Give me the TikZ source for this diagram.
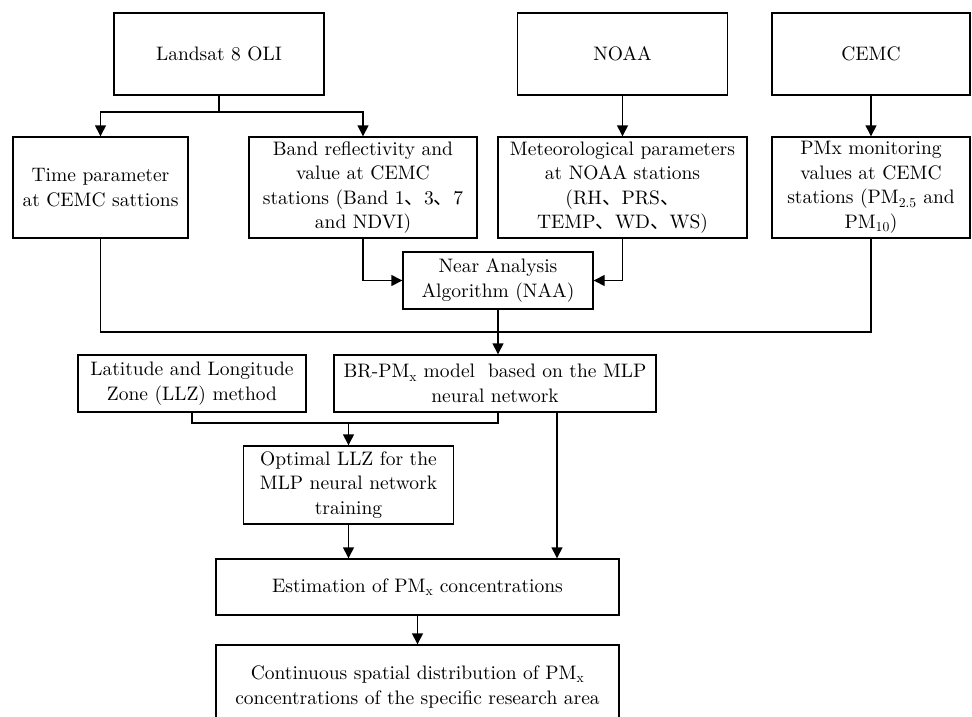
\documentclass[tikz,border=0pt]{standalone}
\usepackage{fontspec}
\setmainfont{lmroman10-regular.otf}
\newfontfamily\cjk{Noto Sans CJK SC}
\usetikzlibrary{arrows.meta,calc}
\newcommand{\dun}{{\cjk 、}}
\begin{document}
\begin{tikzpicture}[x=1pt,y=-1pt,
  box/.style={draw, line width=1.4pt, align=center, inner sep=0pt,
    font=\fontsize{19.5}{24.5}\selectfont},
  conn/.style={line width=1.4pt},
  arr/.style={conn, -{Triangle[length=11pt,width=11pt]}}]
\useasboundingbox (0,0) rectangle (972,717);
\clip (0,0) rectangle (972,717);
% top row
\node[box, minimum width=210pt, minimum height=82pt] (ls) at (219,54) {Landsat 8 OLI};
\node[box, minimum width=210pt, minimum height=82pt] (noaa) at (622.5,54) {NOAA};
\node[box, minimum width=198pt, minimum height=82pt] (cemc) at (871,54) {CEMC};
% second row
\node[box, minimum width=175pt, minimum height=101pt] (time) at (100.5,187.5) {Time parameter\\at CEMC sattions};
\node[box, minimum width=228pt, minimum height=101pt] (band) at (363,187.5) {Band reflectivity and\\value at CEMC\\stations (Band 1\dun3\dun7\\and NDVI)};
\node[box, minimum width=249pt, minimum height=101pt] (met) at (622.5,187.5) {Meteorological parameters\\at NOAA stations\\(RH\dun PRS\dun\\TEMP\dun WD\dun WS)};
\node[box, minimum width=198pt, minimum height=101pt] (pmx) at (871,187.5) {PMx monitoring\\values at CEMC\\stations (PM\textsubscript{2.5} and\\PM\textsubscript{10})};
% NAA
\node[box, minimum width=190pt, minimum height=57pt] (naa) at (498,280.5) {Near Analysis\\Algorithm (NAA)};
% LLZ and BR
\node[box, minimum width=228pt, minimum height=57pt] (llz) at (192,383.5) {Latitude and Longitude\\Zone (LLZ) method};
\node[box, minimum width=322pt, minimum height=57pt] (br) at (495,383.5) {BR-PM\textsubscript{x} model\ \ based on the MLP\\neural network};
% optimal
\node[box, minimum width=210pt, minimum height=78pt] (opt) at (348.5,485) {Optimal LLZ for the\\MLP neural network\\training};
% estimation
\node[box, minimum width=403pt, minimum height=56pt] (est) at (417.5,587) {Estimation of PM\textsubscript{x} concentrations};
% continuous
\node[box, minimum width=403pt, minimum height=84pt] (cont) at (417.5,687) {Continuous spatial distribution of PM\textsubscript{x}\\concentrations of the specific research area};
% connectors
\coordinate (j1) at (219,112);
\draw[conn] (ls.south) -- (j1);
\draw[arr] (j1) -| (time.north);
\draw[arr] (j1) -| (band.north);
\draw[arr] (noaa.south) -- (met.north);
\draw[arr] (cemc.south) -- (pmx.north);
\draw[arr] (band.south) |- (naa.west);
\draw[arr] (met.south) |- (naa.east);
\coordinate (j2) at (498,332);
\draw[conn] (time.south) |- (j2) -| (pmx.south);
\draw[arr] (naa.south) -- (naa.south |- br.north);
\coordinate (j3) at (498,423);
\draw[conn] (llz.south) |- (j3) -- (j3 |- br.south);
\draw[arr] (opt.north |- j3) -- (opt.north);
\coordinate (j4) at (557,411.5);
\draw[arr] (j4) -- (j4 |- est.north);
\draw[arr] (opt.south) -- (opt.south |- est.north);
\draw[arr] (est.south) -- (cont.north);
\end{tikzpicture}
\end{document}
